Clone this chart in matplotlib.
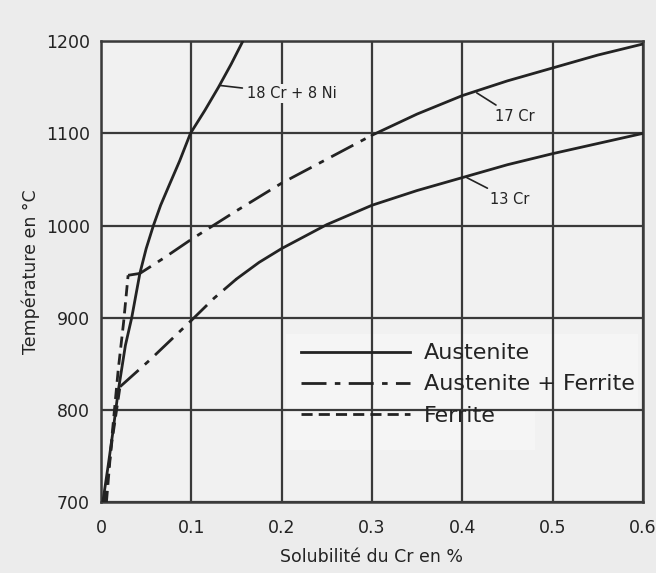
import matplotlib
matplotlib.use("Agg")
import matplotlib.pyplot as plt
from matplotlib.lines import Line2D
from matplotlib.patches import Rectangle

# ---- data ----
# 18Cr-8Ni : austenite boundary (solid)
cr18ni8_x = [0.002, 0.008, 0.013, 0.019, 0.027, 0.034, 0.043, 0.050, 0.058, 0.066, 0.076, 0.087, 0.099, 0.115, 0.130, 0.144, 0.157]
cr18ni8_T = [700, 740, 775, 820, 870, 900, 948, 975, 1000, 1022, 1045, 1070, 1100, 1125, 1150, 1175, 1200]

# 17Cr : austenite (solid), austenite+ferrite (dash-dot), ferrite (dashed)
cr17_aus_x = [0.30, 0.35, 0.40, 0.45, 0.50, 0.55, 0.60]
cr17_aus_T = [1098, 1121, 1141, 1157, 1171, 1185, 1197]
cr17_af_x = [0.030, 0.043, 0.07, 0.10, 0.15, 0.20, 0.25, 0.30]
cr17_af_T = [946, 948, 965, 985, 1016, 1046, 1072, 1098]
cr17_fe_x = [0.006, 0.012, 0.019, 0.025, 0.030]
cr17_fe_T = [700, 770, 843, 895, 946]

# 13Cr
cr13_aus_x = [0.15, 0.175, 0.20, 0.25, 0.30, 0.35, 0.40, 0.45, 0.50, 0.55, 0.60]
cr13_aus_T = [942, 960, 975, 1001, 1022, 1038, 1052, 1066, 1078, 1089, 1100]
cr13_af_x = [0.021, 0.054, 0.10, 0.125, 0.15]
cr13_af_T = [825, 854, 897, 921, 942]
cr13_fe_x = [0.004, 0.012, 0.021]
cr13_fe_T = [700, 765, 825]

x_ticks = [0, 0.1, 0.2, 0.3, 0.4, 0.5, 0.6]
x_tick_labels = ["0", "0.1", "0.2", "0.3", "0.4", "0.5", "0.6"]
y_ticks = [700, 800, 900, 1000, 1100, 1200]
y_tick_labels = ["700", "800", "900", "1000", "1100", "1200"]

legend_labels = ["Austenite", "Austenite + Ferrite", "Ferrite"]
curve_labels = ["18 Cr + 8 Ni", "17 Cr", "13 Cr"]

# ---- style ----
INK = "#232323"
GRID = "#3a3a3a"
LW = 2.0
DASHDOT = (0, (9, 3, 2, 3))
DASHED = (0, (4, 2.2))
font = ["DejaVu Sans"]

fig = plt.figure(figsize=(6.56, 5.73), dpi=100, facecolor="#ececec")
ax = fig.add_axes([0.154, 0.124, 0.826, 0.804])
ax.set_facecolor("#f1f1f1")

ax.set_xlim(0, 0.6)
ax.set_ylim(700, 1200)
ax.set_xticks(x_ticks)
ax.set_xticklabels(x_tick_labels, family=font, fontsize=12.5, color=INK)
ax.set_yticks(y_ticks)
ax.set_yticklabels(y_tick_labels, family=font, fontsize=12.5, color=INK)
ax.tick_params(axis="x", length=0, pad=12)
ax.tick_params(axis="y", length=0, pad=8)
ax.grid(True, color=GRID, linewidth=1.6, zorder=0)
for s in ax.spines.values():
    s.set_color(GRID)
    s.set_linewidth(1.8)

ax.set_xlabel("Solubilité du Cr en %", family=font, fontsize=12.5, color=INK, labelpad=8)
ax.set_ylabel("Température en °C", family=font, fontsize=12.5, color=INK, labelpad=4)

# light patches behind legend (mask the grid as in the scan)
ax.add_patch(Rectangle((0.205, 801), 0.39, 81, facecolor="#f5f5f5", edgecolor="none", zorder=1.5))
ax.add_patch(Rectangle((0.205, 756), 0.275, 46, facecolor="#f5f5f5", edgecolor="none", zorder=1.5))

kw = dict(color=INK, linewidth=LW, zorder=3, solid_capstyle="round")
ax.plot(cr18ni8_x, cr18ni8_T, linestyle="-", **kw)
ax.plot(cr17_aus_x, cr17_aus_T, linestyle="-", **kw)
ax.plot(cr17_af_x, cr17_af_T, linestyle=DASHDOT, **kw)
ax.plot(cr17_fe_x, cr17_fe_T, linestyle=DASHED, **kw)
ax.plot(cr13_aus_x, cr13_aus_T, linestyle="-", **kw)
ax.plot(cr13_af_x, cr13_af_T, linestyle=DASHDOT, **kw)
ax.plot(cr13_fe_x, cr13_fe_T, linestyle=DASHED, **kw)

# curve labels with leader lines
ax.annotate(curve_labels[0], xy=(0.132, 1152), xytext=(0.162, 1143),
            family=font, fontsize=10.5, color=INK, va="center", ha="left",
            bbox=dict(boxstyle="square,pad=0.15", fc="#f1f1f1", ec="none"),
            arrowprops=dict(arrowstyle="-", color=INK, lw=1.2, shrinkA=2, shrinkB=0), zorder=4)
ax.annotate(curve_labels[1], xy=(0.416, 1144), xytext=(0.436, 1118),
            family=font, fontsize=10.5, color=INK, va="center", ha="left",
            arrowprops=dict(arrowstyle="-", color=INK, lw=1.2, shrinkA=2, shrinkB=0), zorder=4)
ax.annotate(curve_labels[2], xy=(0.405, 1052), xytext=(0.431, 1028),
            family=font, fontsize=10.5, color=INK, va="center", ha="left",
            arrowprops=dict(arrowstyle="-", color=INK, lw=1.2, shrinkA=2, shrinkB=0), zorder=4)

handles = [Line2D([], [], color=INK, lw=LW, linestyle="-"),
           Line2D([], [], color=INK, lw=LW, linestyle=DASHDOT),
           Line2D([], [], color=INK, lw=LW, linestyle=DASHED)]
leg = ax.legend(handles, legend_labels, loc="upper left", bbox_to_anchor=(0.34, 0.378),
                frameon=False, prop=dict(family=font, size=16), handlelength=4.9,
                handletextpad=0.65, labelspacing=0.5, borderpad=0.2)
for t in leg.get_texts():
    t.set_color(INK)
leg.set_zorder(5)

fig.savefig("out.png", dpi=100, facecolor=fig.get_facecolor())
